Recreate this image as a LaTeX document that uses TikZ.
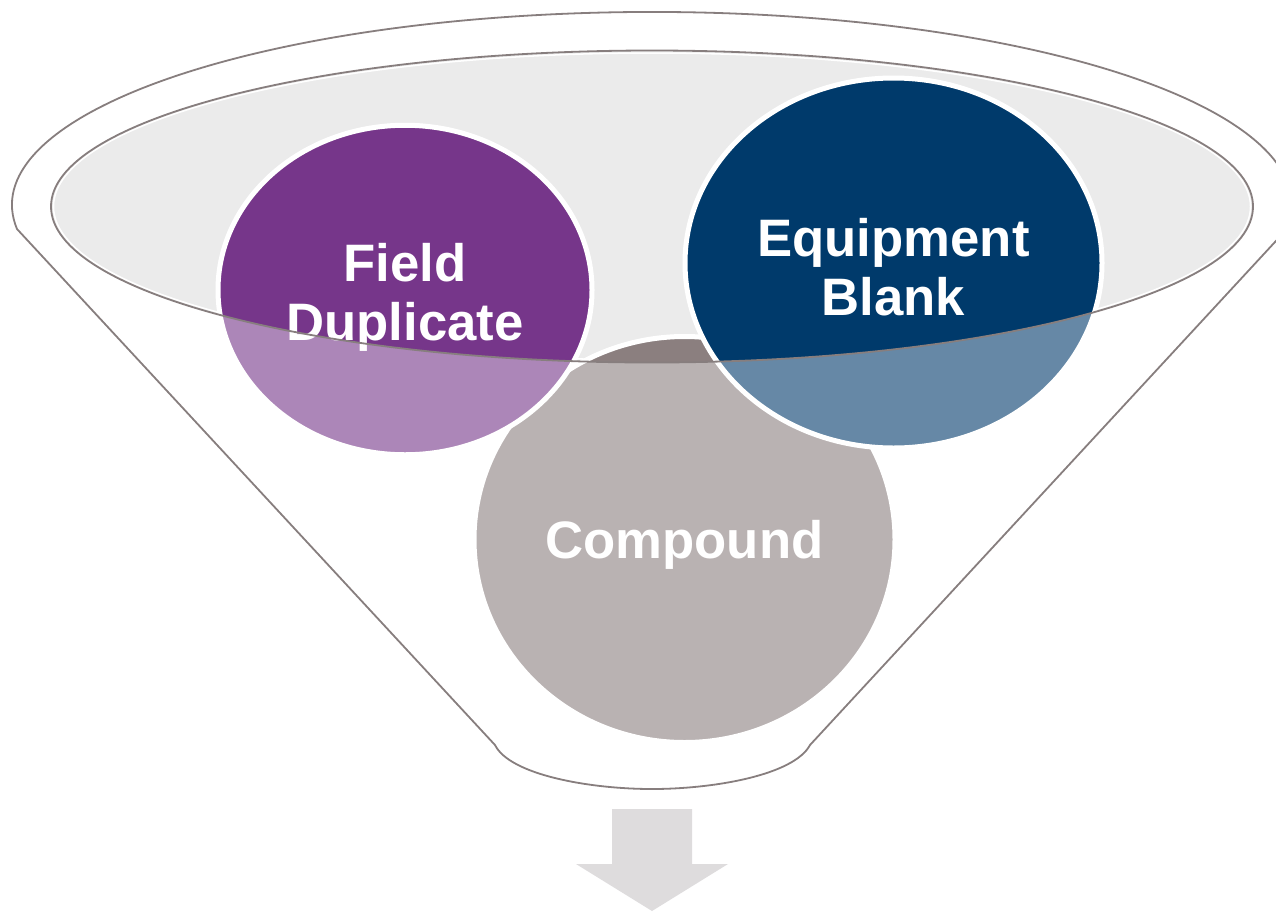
\documentclass[tikz,border=0pt]{standalone}
\usepackage{fontspec}
\setmainfont{Liberation Sans}
\usetikzlibrary{shapes.geometric}

\definecolor{funnelline}{HTML}{877E7E}
\definecolor{rimfill}{HTML}{EBEBEB}
\definecolor{dupviolet}{HTML}{76368A}
\definecolor{blanknavy}{HTML}{003A6B}
\definecolor{compgray}{HTML}{8B7F7F}
\definecolor{arrowgray}{HTML}{DEDCDD}

\tikzset{
  sample/.style={ellipse, draw=white, line width=5pt, inner sep=0pt,
    text=white, align=center,
    font=\fontsize{52.7}{59}\selectfont\bfseries},
  funnel/.style={draw=funnelline, line width=1.8pt, line join=round},
}

\begin{document}
\begin{tikzpicture}[x=1pt, y=-1pt]
  \useasboundingbox (0,0) rectangle (1276,911);

  % mouth of the funnel
  \fill[rimfill] (652,206.5) ellipse [x radius=601, y radius=156];
  \draw[white, line width=1.5pt] (652,206.5) ellipse [x radius=598.5, y radius=153.5];

  % the three samples
  \node[sample, fill=compgray, minimum width=421pt, minimum height=406pt,
        text height=38pt, text depth=1pt] (compound) at (684.5,539.5) {Compound};
  \node[sample, fill=dupviolet, minimum width=374pt, minimum height=329.5pt,
        text height=100pt, text depth=0pt] (fielddup) at (405,290) {Field\\Duplicate};
  \node[sample, fill=blanknavy, minimum width=417pt, minimum height=370pt,
        text height=104pt, text depth=0pt] (eqblank) at (893.5,263) {Equipment\\Blank};

  % below the rim everything is seen through the funnel wall
  \fill[white, fill opacity=0.4, even odd rule] (0,0) rectangle (1276,911)
    (652,206.5) ellipse [x radius=601, y radius=156];
  \draw[funnel] (652,206.5) ellipse [x radius=601, y radius=156];

  % funnel body
  \draw[funnel] (17,229) arc[start angle=172.84, end angle=367.16, x radius=640, y radius=193]
    -- (810,745) .. controls (794,775) and (714,789) .. (652,789)
    .. controls (590,789) and (510,775) .. (495,745) -- cycle;

  % outlet arrow
  \fill[arrowgray] (612,809) -- (692,809) -- (692,864) -- (728,864) -- (652,911)
    -- (576,864) -- (612,864) -- cycle;
\end{tikzpicture}
\end{document}
